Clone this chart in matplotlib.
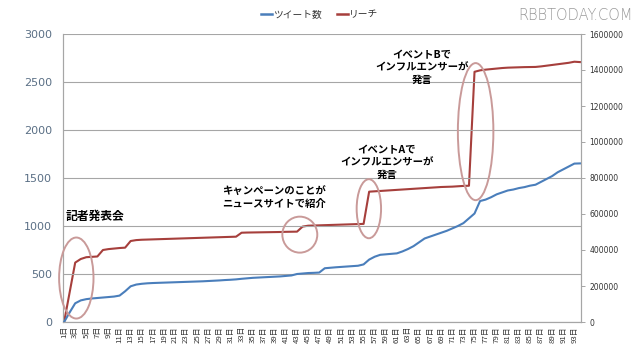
import matplotlib
matplotlib.use("Agg")
import matplotlib.pyplot as plt
from matplotlib.patches import Ellipse
import numpy as np

plt.rcParams['font.family'] = ['Noto Sans CJK JP', 'DejaVu Sans']

days = list(range(1, 95))
day_labels = [f"{d}日" for d in days]

tweets = [0, 100, 195, 225, 238, 245, 250, 255, 260, 265,
          275, 320, 372, 390, 398, 403, 406, 408, 410, 412,
          414, 416, 418, 420, 422, 424, 427, 430, 433, 437,
          440, 444, 450, 455, 460, 463, 466, 469, 472, 475,
          480, 485, 500, 505, 510, 512, 515, 560, 565, 570,
          574, 578, 582, 586, 600, 650, 680, 700, 705, 710,
          715, 735, 760, 790, 830, 870, 890, 910, 930, 950,
          975, 1000, 1030, 1080, 1130, 1260, 1275, 1300, 1330, 1350,
          1370, 1380, 1395, 1405, 1420, 1430, 1460, 1490, 1520, 1560,
          1590, 1620, 1650, 1652]

reach = [0, 165000, 330000, 350000, 360000, 362000, 364000, 400000, 405000, 408000,
         411000, 413000, 450000, 455000, 457000, 458000, 459000, 460000, 461000, 462000,
         463000, 464000, 465000, 466000, 467000, 468000, 469000, 470000, 471000, 472000,
         473000, 474000, 496000, 497000, 497500, 498000, 498500, 499000, 499500, 500000,
         501000, 501500, 502000, 530000, 535000, 536000, 537000, 538000, 539000, 540000,
         541000, 542000, 543000, 544000, 545000, 724000, 726000, 728000, 730000, 732000,
         734000, 736000, 738000, 740000, 742000, 744000, 746000, 748000, 750000, 751000,
         752000, 754000, 756000, 757000, 1390000, 1398000, 1402000, 1405000, 1408000, 1411000,
         1413000, 1414000, 1415000, 1416000, 1416500, 1417000, 1420000, 1424000, 1428000, 1432000,
         1436000, 1440000, 1446000, 1444000]

left_ticks = [0, 500, 1000, 1500, 2000, 2500, 3000]
right_ticks = [0, 200000, 400000, 600000, 800000, 1000000, 1200000, 1400000, 1600000]

# annotations: (day, tweet-axis value, width in days, height in tweet units)
ellipses = [(3.2, 458, 6.2, 844), (43.5, 910, 6.3, 375),
            (55.95, 1180, 4.4, 615), (75.2, 1983, 6.4, 1428)]

blue = '#4a7ebb'
red = '#a63f3c'
grid_c = '#a6a6a6'

fig = plt.figure(figsize=(6.4, 3.62), dpi=100)
ax = fig.add_axes([63/640, 1-322/362, (581-63)/640, (322-34)/362])
ax2 = ax.twinx()

ax.plot(days, tweets, color=blue, lw=1.5, zorder=3)
ax2.plot(days, reach, color=red, lw=1.5, zorder=3)

ax.set_ylim(0, 3000)
ax2.set_ylim(0, 1600000)
ax.set_xlim(0.8, 94.2)
ax.set_yticks(left_ticks)
ax.set_yticklabels([str(v) for v in left_ticks], fontsize=8, color='#5a6f85',
                   family='DejaVu Sans')
ax2.set_yticks(right_ticks)
ax2.set_yticklabels([str(v) for v in right_ticks], fontsize=5.5, color='#333333',
                    family='DejaVu Sans')
ax.tick_params(axis='y', length=0, pad=8)
ax2.tick_params(axis='y', length=3, width=0.7, color=grid_c, pad=3)

ax.set_xticks(days[::2])
ax.set_xticklabels(day_labels[::2], rotation=90, fontsize=5.6, color='#333333')
ax.tick_params(axis='x', length=0, pad=3)

ax.grid(axis='y', color=grid_c, lw=0.8)
ax.set_axisbelow(True)
for sp in ['left', 'bottom', 'right']:
    ax.spines[sp].set_color(grid_c)
    ax2.spines[sp].set_color(grid_c)
ax.spines['top'].set_visible(False)
ax2.spines['top'].set_visible(False)

for (cx, cy, w, h) in ellipses:
    ax.add_patch(Ellipse((cx, cy), w, h, fill=False, ec='#c99a99', lw=1.4, zorder=4,
                         clip_on=False))

ax.set_zorder(ax2.get_zorder() + 1)
ax.patch.set_visible(False)

ax.text(1.3, 1105, '記者発表会', fontsize=8.5, fontweight='bold', ha='left', va='center')
ax.text(38.8, 1290, 'キャンペーンのことが\nニュースサイトで紹介', fontsize=7.5,
        fontweight='bold', ha='center', va='center', linespacing=1.25)
ax.text(59.2, 1660, 'イベントAで\nインフルエンサーが\n発言', fontsize=7.5,
        fontweight='bold', ha='center', va='center', linespacing=1.3)
ax.text(65.5, 2650, 'イベントBで\nインフルエンサーが\n発言', fontsize=7.5,
        fontweight='bold', ha='center', va='center', linespacing=1.3)

# legend
fig.lines.append(plt.Line2D([261/640, 272/640], [1-14/362, 1-14/362], color=blue, lw=1.8,
                            transform=fig.transFigure))
fig.text(273/640, 1-14/362, 'ツイート数', fontsize=7, va='center', ha='left', color='#333333')
fig.lines.append(plt.Line2D([337/640, 348/640], [1-14/362, 1-14/362], color=red, lw=1.8,
                            transform=fig.transFigure))
fig.text(349/640, 1-14/362, 'リーチ', fontsize=7, va='center', ha='left', color='#333333')

fig.text(633/640, 1-16/362, 'RBBTODAY.COM', fontsize=10.5, color='#9a9a9a', ha='right',
         va='center', family='DejaVu Sans', fontweight='light')

fig.savefig('out.png', dpi=100, facecolor='white')
